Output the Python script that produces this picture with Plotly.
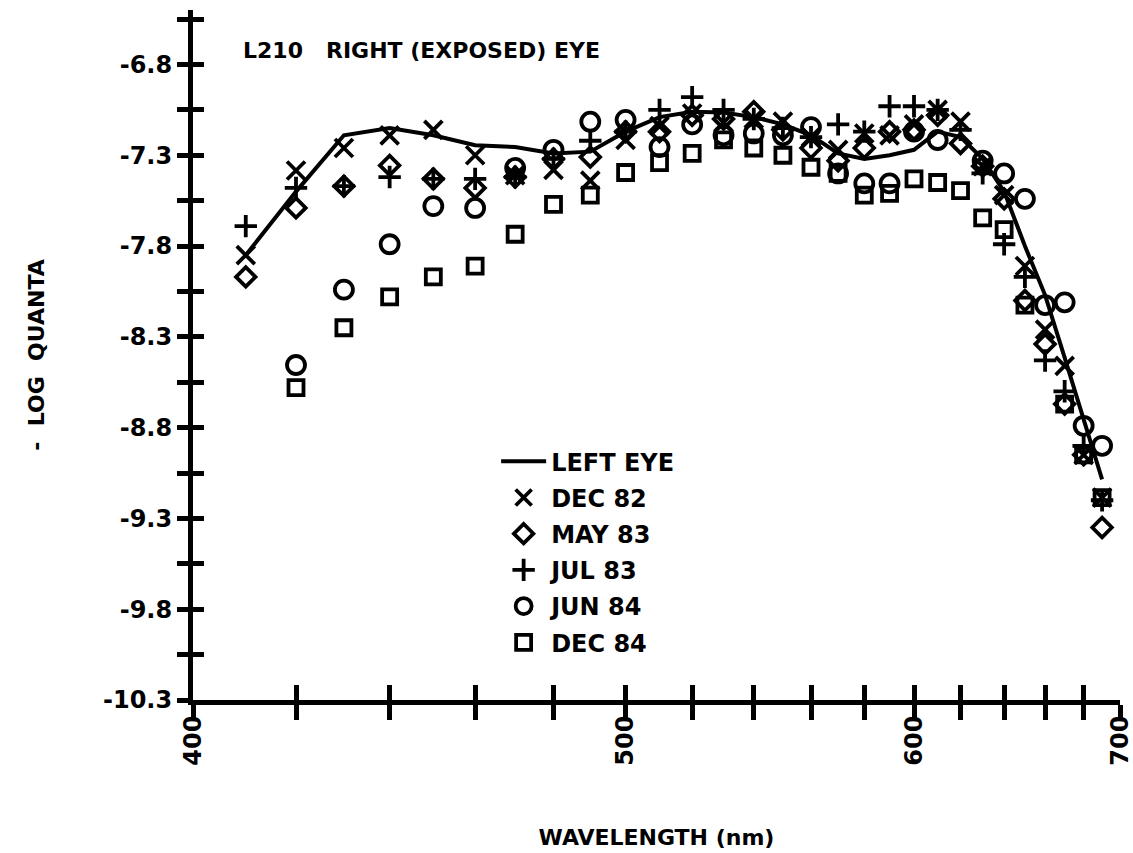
import plotly.graph_objects as go

# Wavelengths (nm) of the spectral sensitivity measurements
WAVELENGTH = [410, 420, 430, 440, 450, 460, 470, 480, 490, 500,
              510, 520, 530, 540, 550, 560, 570, 580, 590, 600,
              610, 620, 630, 640, 650, 660, 670, 680, 690]

# -log quanta needed for criterion response
LEFT_EYE = [-7.85, -7.50, -7.19, -7.15, -7.19, -7.245, -7.255, -7.29, -7.28, -7.17,
            -7.09, -7.06, -7.065, -7.09, -7.13, -7.19, -7.29, -7.32, -7.30, -7.27,
            -7.17, -7.20, -7.32, -7.50, -7.80, -8.07, -8.415, -8.75, -9.085]
DEC_82 = [-7.85, -7.384, -7.26, -7.19, -7.16, -7.30, -7.41, -7.38, -7.44, -7.215,
          -7.14, -7.07, -7.12, -7.10, -7.115, -7.20, -7.27, -7.18, -7.19, -7.13,
          -7.05, -7.115, -7.36, -7.52, -7.91, -8.26, -8.46, -8.95, -9.185]
MAY_83 = [-7.97, -7.59, -7.47, -7.356, -7.43, -7.48, -7.42, -7.32, -7.31, -7.17,
          -7.17, -7.08, -7.10, -7.06, -7.16, -7.26, -7.33, -7.26, -7.17, -7.16,
          -7.08, -7.235, -7.36, -7.54, -8.10, -8.34, -8.67, -8.95, -9.35]
JUL_83 = [-7.69, -7.48, -7.47, -7.42, -7.43, -7.43, -7.42, -7.32, -7.22, -7.17,
          -7.05, -6.98, -7.05, -7.10, -7.15, -7.20, -7.13, -7.17, -7.03, -7.03,
          -7.05, -7.16, -7.40, -7.79, -7.97, -8.43, -8.60, -8.90, -9.20]
JUN_84 = [None, -8.455, -8.04, -7.79, -7.58, -7.59, -7.37, -7.27, -7.115, -7.105,
          -7.255, -7.13, -7.19, -7.18, -7.19, -7.145, -7.40, -7.455, -7.455, -7.17,
          -7.216, None, -7.33, -7.40, -7.54, -8.125, -8.11, -8.79, -8.90]
DEC_84 = [None, -8.58, -8.25, -8.08, -7.97, -7.91, -7.735, -7.57, -7.52, -7.395,
          -7.34, -7.29, -7.215, -7.26, -7.30, -7.366, -7.40, -7.52, -7.51, -7.43,
          -7.45, -7.495, -7.645, -7.71, -8.125, None, -8.67, -8.95, -9.185]

# Axis ticks
X_TICK_NM = list(range(400, 701, 20))
X_TICK_LABELS = [str(t) if t % 100 == 0 else "" for t in X_TICK_NM]
Y_TICKS = [round(-10.3 + 0.25 * i, 2) for i in range(16)]
Y_TICK_LABELS = [f"{v:.1f}" if i % 2 == 0 else "" for i, v in enumerate(Y_TICKS)]


def to_wavenumber(nm):
    # the abscissa is linear in frequency (1/wavelength)
    return [1e7 / v for v in nm]


X = to_wavenumber(WAVELENGTH)
FONT = "DejaVu Sans"
INK = "black"
STROKE = 3.8

fig = go.Figure()

fig.add_trace(go.Scatter(x=X, y=LEFT_EYE, mode="lines", name="LEFT EYE",
                         legendgroup="g0",
                         line=dict(color=INK, width=4)))

series = [
    ("DEC 82", DEC_82, "x-thin-open", 18),
    ("MAY 83", MAY_83, "diamond-open", 15),
    ("JUL 83", JUL_83, "cross-thin-open", 16),
    ("JUN 84", JUN_84, "circle-open", 18),
    ("DEC 84", DEC_84, "square-open", 15),
]
for i, (name, vals, sym, size) in enumerate(series, start=1):
    fig.add_trace(go.Scatter(
        x=X, y=vals, mode="markers", name=name, legendgroup=f"g{i}",
        marker=dict(symbol=sym, size=size, color=INK,
                    line=dict(color=INK, width=STROKE)),
    ))

# companion axes carrying the inward half of the crossing tick marks
fig.add_trace(go.Scatter(x=[], y=[], xaxis="x2", yaxis="y2", showlegend=False,
                         hoverinfo="skip"))

xr = [1e7 / 400, 1e7 / 700]
yr = [-10.3, -6.50]
tickvals_x = to_wavenumber(X_TICK_NM)

common_x = dict(range=xr, tickmode="array", tickvals=tickvals_x,
                showgrid=False, zeroline=False, showline=True, automargin=False,
                linecolor=INK, linewidth=5, tickcolor=INK, tickwidth=4.5,
                ticklen=15)
common_y = dict(range=yr, tickmode="array", tickvals=Y_TICKS,
                showgrid=False, zeroline=False, showline=True, automargin=False,
                linecolor=INK, linewidth=5, tickcolor=INK, tickwidth=4.5,
                ticklen=11)

bold = dict(family=FONT, color=INK, weight="bold")

fig.update_layout(
    width=1133, height=853,
    margin=dict(l=193, r=13, t=10, b=153),
    paper_bgcolor="white", plot_bgcolor="white",
    font=dict(**bold, size=22),
    title=dict(text="L210\u00a0\u00a0 RIGHT (EXPOSED) EYE",
               x=0.054, xref="paper", xanchor="left",
               y=0.942, yref="paper", yanchor="middle",
               font=dict(**bold, size=22)),
    xaxis=dict(**common_x, ticks="outside", ticktext=X_TICK_LABELS,
               tickangle=-90, ticklabelstandoff=-14, ticklabeloverflow="allow",
               tickfont=dict(**bold, size=24),
               title=dict(text="WAVELENGTH (nm)", standoff=66,
                          font=dict(**bold, size=22))),
    yaxis=dict(**common_y, ticks="outside", ticktext=Y_TICK_LABELS,
               ticklabeloverflow="allow",
               tickfont=dict(**bold, size=24),
               title=dict(text="-\u00a0 LOG\u00a0 QUANTA", standoff=54,
                          font=dict(**bold, size=22))),
    xaxis2=dict(**common_x, ticks="inside", showticklabels=False,
                overlaying="x", anchor="y2", side="bottom"),
    yaxis2=dict(**common_y, ticks="inside", showticklabels=False,
                overlaying="y", anchor="x2", side="left"),
    legend=dict(x=0.327, y=0.378, xanchor="left", yanchor="top",
                bgcolor="rgba(0,0,0,0)", borderwidth=0,
                font=dict(**bold, size=24),
                itemwidth=45, tracegroupgap=2),
    showlegend=True,
)

fig.write_html("out.html")
